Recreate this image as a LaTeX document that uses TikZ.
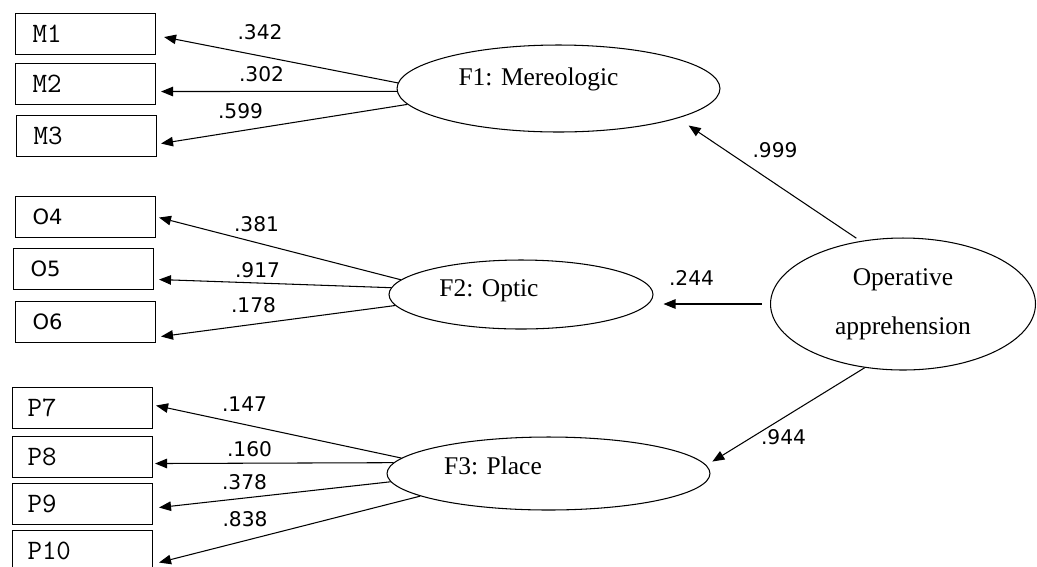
\documentclass[tikz,border=0pt]{standalone}
\usepackage{fontspec}
\setmainfont{Liberation Serif}
\newfontfamily\coeffont{DejaVu Sans}
\usetikzlibrary{arrows.meta, calc, shapes.geometric}

\tikzset{
  obs/.style={draw, line width=0.6pt, anchor=north west, minimum height=0.82cm,
    text width=2.12cm, inner xsep=0.34cm, align=left},
  mono/.style={font=\ttfamily\fontsize{16}{18}\selectfont},
  lat/.style={draw, ellipse, line width=0.6pt, inner sep=0pt},
  lattxt/.style={font=\fontsize{14.5}{17}\selectfont, anchor=base, inner sep=0pt},
  coef/.style={font=\coeffont\fontsize{11.5}{13}\selectfont, inner sep=0pt},
  load/.style={-{Triangle[length=0.24cm,width=0.19cm]}, line width=0.6pt},
}

\begin{document}
\begin{tikzpicture}[x=0.02cm, y=-0.02cm]
    \useasboundingbox (0,0) rectangle (1037,566);

    % observed variables
    \node[obs, mono] (M1) at (15,13) {M1};
    \node[obs, mono] (M2) at (15,63) {M2};
    \node[obs, mono] (M3) at (16,115) {M3};
    \node[obs, font=\coeffont\fontsize{12}{14}\selectfont] (O4) at (15,196) {O4};
    \node[obs, font=\coeffont\fontsize{12}{14}\selectfont] (O5) at (13,248) {O5};
    \node[obs, font=\coeffont\fontsize{12}{14}\selectfont] (O6) at (15,301) {O6};
    \node[obs, mono, inner xsep=0.3cm, text width=2.2cm] (P7) at (12,387) {P7};
    \node[obs, mono, inner xsep=0.3cm, text width=2.2cm] (P8) at (12,436) {P8};
    \node[obs, mono, inner xsep=0.3cm, text width=2.2cm] (P9) at (12,483) {P9};
    \node[obs, mono, inner xsep=0.3cm, text width=2.2cm] (P10) at (12,530) {P10};

    % latent factors
    \node[lat, minimum width=6.46cm, minimum height=1.74cm] (F1) at (558.5,88.5) {};
    \node[lat, minimum width=5.28cm, minimum height=1.38cm] (F2) at (521,294.5) {};
    \node[lat, minimum width=6.46cm, minimum height=1.46cm] (F3) at (548.5,473.5) {};
    \node[lat, minimum width=5.3cm, minimum height=2.64cm, align=center,
          font=\fontsize{14.5}{28}\selectfont] (Op) at (903,304) {Operative\\apprehension};

    \node[lattxt] (F1txt) at (538.5,85) {F1: Mereologic};
    \node[lattxt] (F2txt) at (489,296) {F2: Optic};
    \node[lattxt] (F3txt) at (493,474) {F3: Place};

    % loadings
    \draw[load] (F1.178) -- ([shift={(8,3)}]M1.east);
    \draw[load] (F1.181) -- ([shift={(5,7.5)}]M2.east);
    \draw[load] (F1.186) -- ([shift={(4,7.5)}]M3.east);
    \draw[load] (F2.173) -- ([shift={(3,0.5)}]O4.east);
    \draw[load] (F2.177) -- ([shift={(5,10.5)}]O5.east);
    \draw[load] (F2.185) -- ([shift={(5,14.5)}]O6.east);
    \draw[load] (F3.174) -- ([shift={(3,-2.5)}]P7.east);
    \draw[load] (F3.176) -- ([shift={(2,6.5)}]P8.east);
    \draw[load] (F3.183) -- ([shift={(6,3.5)}]P9.east);
    \draw[load] (F3.190) -- ([shift={(6,11.5)}]P10.east);

    \draw[load, shorten <=0.1cm, shorten >=0.26cm] (Op.124) -- (F1.-14);
    \draw[load, shorten <=0.17cm, shorten >=0.2cm] (Op.west) -- (Op.west -| F2.east);
    \draw[load, shorten >=0.14cm] (Op.239) -- (F3.3);

    % coefficients
    \node[coef] (c1) at (260,32.5) {.342};
    \node[coef] (c2) at (261.5,74) {.302};
    \node[coef] (c3) at (240.5,111.5) {.599};
    \node[coef] (c4) at (256.5,224.5) {.381};
    \node[coef] (c5) at (257.5,270) {.917};
    \node[coef] (c6) at (253.5,305.5) {.178};
    \node[coef] (c7) at (244.5,404.5) {.147};
    \node[coef] (c8) at (249.5,449.5) {.160};
    \node[coef] (c9) at (244.5,482.5) {.378};
    \node[coef] (c10) at (245,519.5) {.838};
    \node[coef] (c11) at (775,150) {.999};
    \node[coef] (c12) at (691.5,277.5) {.244};
    \node[coef] (c13) at (783.5,437.5) {.944};
\end{tikzpicture}
\end{document}
